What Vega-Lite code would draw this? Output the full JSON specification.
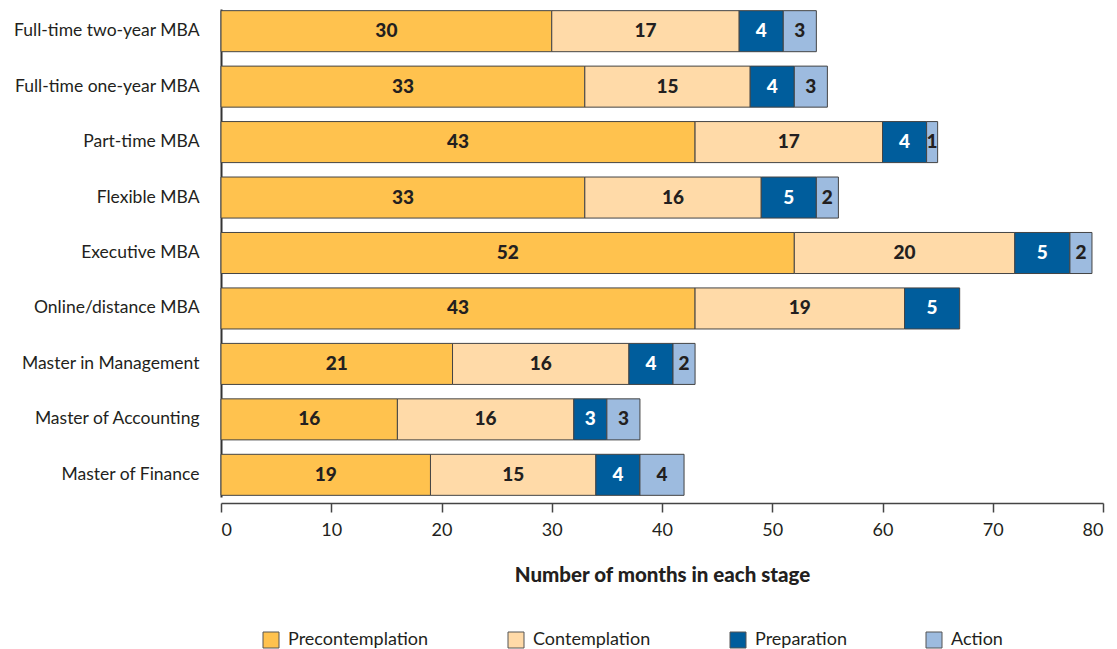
{
  "$schema": "https://vega.github.io/schema/vega-lite/v6.json",
  "autosize": {"type": "none"},
  "padding": {"left": 221, "top": 9, "right": 14, "bottom": 152},
  "width": 882,
  "height": 488,
  "config": {
    "view": {"stroke": null},
    "font": "Lato"
  },
  "data": {
    "values": [
      {"program": "Full-time two-year MBA", "stage": "Precontemplation", "order": 1, "months": 30},
      {"program": "Full-time two-year MBA", "stage": "Contemplation", "order": 2, "months": 17},
      {"program": "Full-time two-year MBA", "stage": "Preparation", "order": 3, "months": 4},
      {"program": "Full-time two-year MBA", "stage": "Action", "order": 4, "months": 3},
      {"program": "Full-time one-year MBA", "stage": "Precontemplation", "order": 1, "months": 33},
      {"program": "Full-time one-year MBA", "stage": "Contemplation", "order": 2, "months": 15},
      {"program": "Full-time one-year MBA", "stage": "Preparation", "order": 3, "months": 4},
      {"program": "Full-time one-year MBA", "stage": "Action", "order": 4, "months": 3},
      {"program": "Part-time MBA", "stage": "Precontemplation", "order": 1, "months": 43},
      {"program": "Part-time MBA", "stage": "Contemplation", "order": 2, "months": 17},
      {"program": "Part-time MBA", "stage": "Preparation", "order": 3, "months": 4},
      {"program": "Part-time MBA", "stage": "Action", "order": 4, "months": 1},
      {"program": "Flexible MBA", "stage": "Precontemplation", "order": 1, "months": 33},
      {"program": "Flexible MBA", "stage": "Contemplation", "order": 2, "months": 16},
      {"program": "Flexible MBA", "stage": "Preparation", "order": 3, "months": 5},
      {"program": "Flexible MBA", "stage": "Action", "order": 4, "months": 2},
      {"program": "Executive MBA", "stage": "Precontemplation", "order": 1, "months": 52},
      {"program": "Executive MBA", "stage": "Contemplation", "order": 2, "months": 20},
      {"program": "Executive MBA", "stage": "Preparation", "order": 3, "months": 5},
      {"program": "Executive MBA", "stage": "Action", "order": 4, "months": 2},
      {"program": "Online/distance MBA", "stage": "Precontemplation", "order": 1, "months": 43},
      {"program": "Online/distance MBA", "stage": "Contemplation", "order": 2, "months": 19},
      {"program": "Online/distance MBA", "stage": "Preparation", "order": 3, "months": 5},
      {"program": "Master in Management", "stage": "Precontemplation", "order": 1, "months": 21},
      {"program": "Master in Management", "stage": "Contemplation", "order": 2, "months": 16},
      {"program": "Master in Management", "stage": "Preparation", "order": 3, "months": 4},
      {"program": "Master in Management", "stage": "Action", "order": 4, "months": 2},
      {"program": "Master of Accounting", "stage": "Precontemplation", "order": 1, "months": 16},
      {"program": "Master of Accounting", "stage": "Contemplation", "order": 2, "months": 16},
      {"program": "Master of Accounting", "stage": "Preparation", "order": 3, "months": 3},
      {"program": "Master of Accounting", "stage": "Action", "order": 4, "months": 3},
      {"program": "Master of Finance", "stage": "Precontemplation", "order": 1, "months": 19},
      {"program": "Master of Finance", "stage": "Contemplation", "order": 2, "months": 15},
      {"program": "Master of Finance", "stage": "Preparation", "order": 3, "months": 4},
      {"program": "Master of Finance", "stage": "Action", "order": 4, "months": 4}
    ]
  },
  "encoding": {
    "y": {
      "field": "program",
      "type": "nominal",
      "sort": ["Full-time two-year MBA", "Full-time one-year MBA", "Part-time MBA", "Flexible MBA", "Executive MBA", "Online/distance MBA", "Master in Management", "Master of Accounting", "Master of Finance"],
      "scale": {"paddingInner": 0.26, "paddingOuter": 0.03},
      "axis": {
        "title": null,
        "domain": true,
        "domainColor": "#333333",
        "domainWidth": 2,
        "ticks": false,
        "labelPadding": 22,
        "labelFontSize": 17.5,
        "labelLimit": 400,
        "labelColor": "#231f20",
        "labelFont": "Lato"
      }
    },
    "x": {
      "field": "months",
      "type": "quantitative",
      "stack": "zero",
      "scale": {"domain": [0, 80], "nice": false},
      "axis": {
        "title": "Number of months in each stage",
        "values": [0, 10, 20, 30, 40, 50, 60, 70, 80],
        "grid": false,
        "offset": 6,
        "domainColor": "#444444",
        "domainWidth": 1.5,
        "tickColor": "#444444",
        "tickWidth": 1.5,
        "tickSize": 9,
        "labelPadding": 9,
        "labelFontSize": 18,
        "labelColor": "#231f20",
        "labelFont": "Lato",
        "titleFont": "Lato",
        "titleFontSize": 20.5,
        "titleFontWeight": 900,
        "titleColor": "#231f20",
        "titlePadding": 26
      }
    },
    "order": {"field": "order", "type": "quantitative"}
  },
  "layer": [
    {
      "mark": {"type": "bar", "stroke": "#444444", "strokeWidth": 1},
      "encoding": {
        "fill": {
          "field": "stage",
          "type": "nominal",
          "scale": {
            "domain": ["Precontemplation", "Contemplation", "Preparation", "Action"],
            "range": ["#ffc24e", "#ffdaa8", "#005d9c", "#9dbbdf"]
          },
          "legend": {
            "title": null,
            "orient": "none",
            "legendX": 41,
            "legendY": 622,
            "direction": "horizontal",
            "columns": 4,
            "columnPadding": 77,
            "padding": 0,
            "symbolType": "square",
            "symbolSize": 256,
            "symbolStrokeColor": "#555555",
            "symbolStrokeWidth": 1,
            "symbolOpacity": 1,
            "labelFontSize": 18,
            "labelFont": "Lato",
            "labelColor": "#231f20",
            "labelOffset": 8,
            "labelLimit": 300
          }
        }
      }
    },
    {
      "mark": {"type": "text", "fontSize": 19, "fontWeight": 900, "font": "Lato", "baseline": "middle", "align": "center"},
      "encoding": {
        "x": {"field": "months", "type": "quantitative", "stack": "zero", "bandPosition": 0.5},
        "text": {"field": "months", "type": "quantitative"},
        "color": {
          "condition": {"test": "datum.stage === 'Preparation'", "value": "#ffffff"},
          "value": "#231f20"
        }
      }
    }
  ]
}
